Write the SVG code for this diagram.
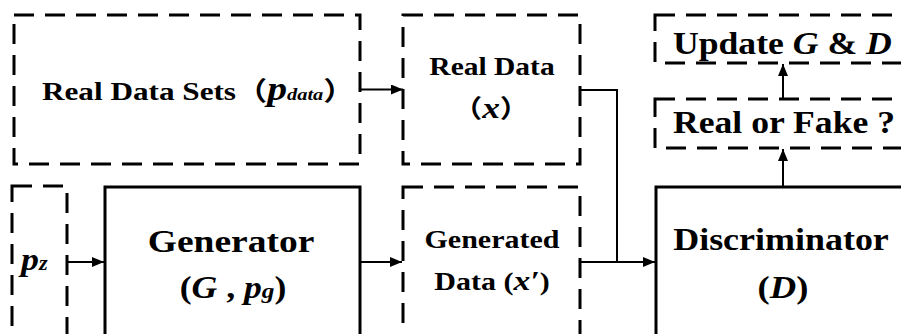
<svg xmlns="http://www.w3.org/2000/svg" width="901" height="334" viewBox="0 0 901 334">
<defs>
<style>
.box{fill:none;stroke:#000;stroke-width:3}
.dash{stroke-dasharray:20 11}
.conn{fill:none;stroke:#000;stroke-width:2}
text{font-family:'Liberation Serif','DejaVu Serif',serif;font-weight:bold;fill:#000}
.s{font-size:25px}
.b{font-size:31px}
.i{font-style:italic}
.cjk{font-family:'Noto Sans CJK SC',serif}
</style>
<marker id="ah" viewBox="0 0 12 10" refX="12" refY="5" markerWidth="12" markerHeight="10" markerUnits="userSpaceOnUse" orient="auto">
<path d="M0,0 L12,5 L0,10 z" fill="#000"/>
</marker>
</defs>
<rect width="901" height="334" fill="#fff"/>
<g id="real-data-sets">
<rect class="box dash" x="14" y="15" width="346" height="149"/>
<text font-size="26" transform="translate(42,100) scale(1.2,1)">Real Data Sets<tspan class="cjk">（</tspan><tspan class="i" font-size="33">p</tspan><tspan class="i" font-size="17">data</tspan><tspan class="cjk">）</tspan></text>
</g>
<g id="real-data">
<rect class="box dash" x="403" y="15" width="177" height="149"/>
<text class="s" text-anchor="middle" transform="translate(492,75) scale(1.18,1)">Real Data</text>
<text class="s" text-anchor="middle" transform="translate(491,118) scale(1.18,1)"><tspan class="cjk">（</tspan><tspan class="i" font-size="30">x</tspan><tspan class="cjk">）</tspan></text>
</g>
<g id="update">
<rect class="box dash" x="655" y="15" width="270" height="48"/>
<text class="b" transform="translate(673,54) scale(1.15,1)">Update <tspan class="i">G</tspan> &amp; <tspan class="i">D</tspan></text>
</g>
<g id="real-or-fake">
<rect class="box dash" x="655" y="99" width="270" height="49"/>
<text class="b" transform="translate(673,133) scale(1.15,1)">Real or Fake ?</text>
</g>
<g id="pz">
<rect class="box dash" x="12" y="186" width="55" height="170"/>
<text transform="translate(21,270) scale(1.12,1)"><tspan class="i" font-size="32">p</tspan><tspan class="i" font-size="20">z</tspan></text>
</g>
<g id="generator">
<rect class="box" x="105" y="187" width="255" height="170"/>
<text class="b" text-anchor="middle" transform="translate(231,252) scale(1.21,1)">Generator</text>
<text class="b" text-anchor="middle" transform="translate(233,298) scale(1.15,1)">(<tspan class="i">G</tspan> , <tspan class="i">p</tspan><tspan class="i" font-size="22">g</tspan>)</text>
</g>
<g id="generated-data">
<rect class="box dash" x="403" y="187" width="177" height="170"/>
<text class="s" text-anchor="middle" transform="translate(492,248) scale(1.2,1)">Generated</text>
<text class="s" text-anchor="middle" transform="translate(492,290) scale(1.2,1)">Data (<tspan class="i" font-size="28">x′</tspan>)</text>
</g>
<g id="discriminator">
<rect class="box" x="656" y="187" width="270" height="170"/>
<text class="b" text-anchor="middle" transform="translate(781,250) scale(1.16,1)">Discriminator</text>
<text class="b" text-anchor="middle" transform="translate(783,298) scale(1.18,1)">(<tspan class="i">D</tspan>)</text>
</g>
<g id="connectors">
<path class="conn" d="M360,89.5 H403" marker-end="url(#ah)"/>
<path class="conn" d="M580,90 H617 V262 H655" marker-end="url(#ah)"/>
<path class="conn" d="M580,262 H617"/>
<path class="conn" d="M67,262 H104" marker-end="url(#ah)"/>
<path class="conn" d="M360,262 H402" marker-end="url(#ah)"/>
<path class="conn" d="M783,187 V149" marker-end="url(#ah)"/>
<path class="conn" d="M783,99 V64" marker-end="url(#ah)"/>
</g>
</svg>
